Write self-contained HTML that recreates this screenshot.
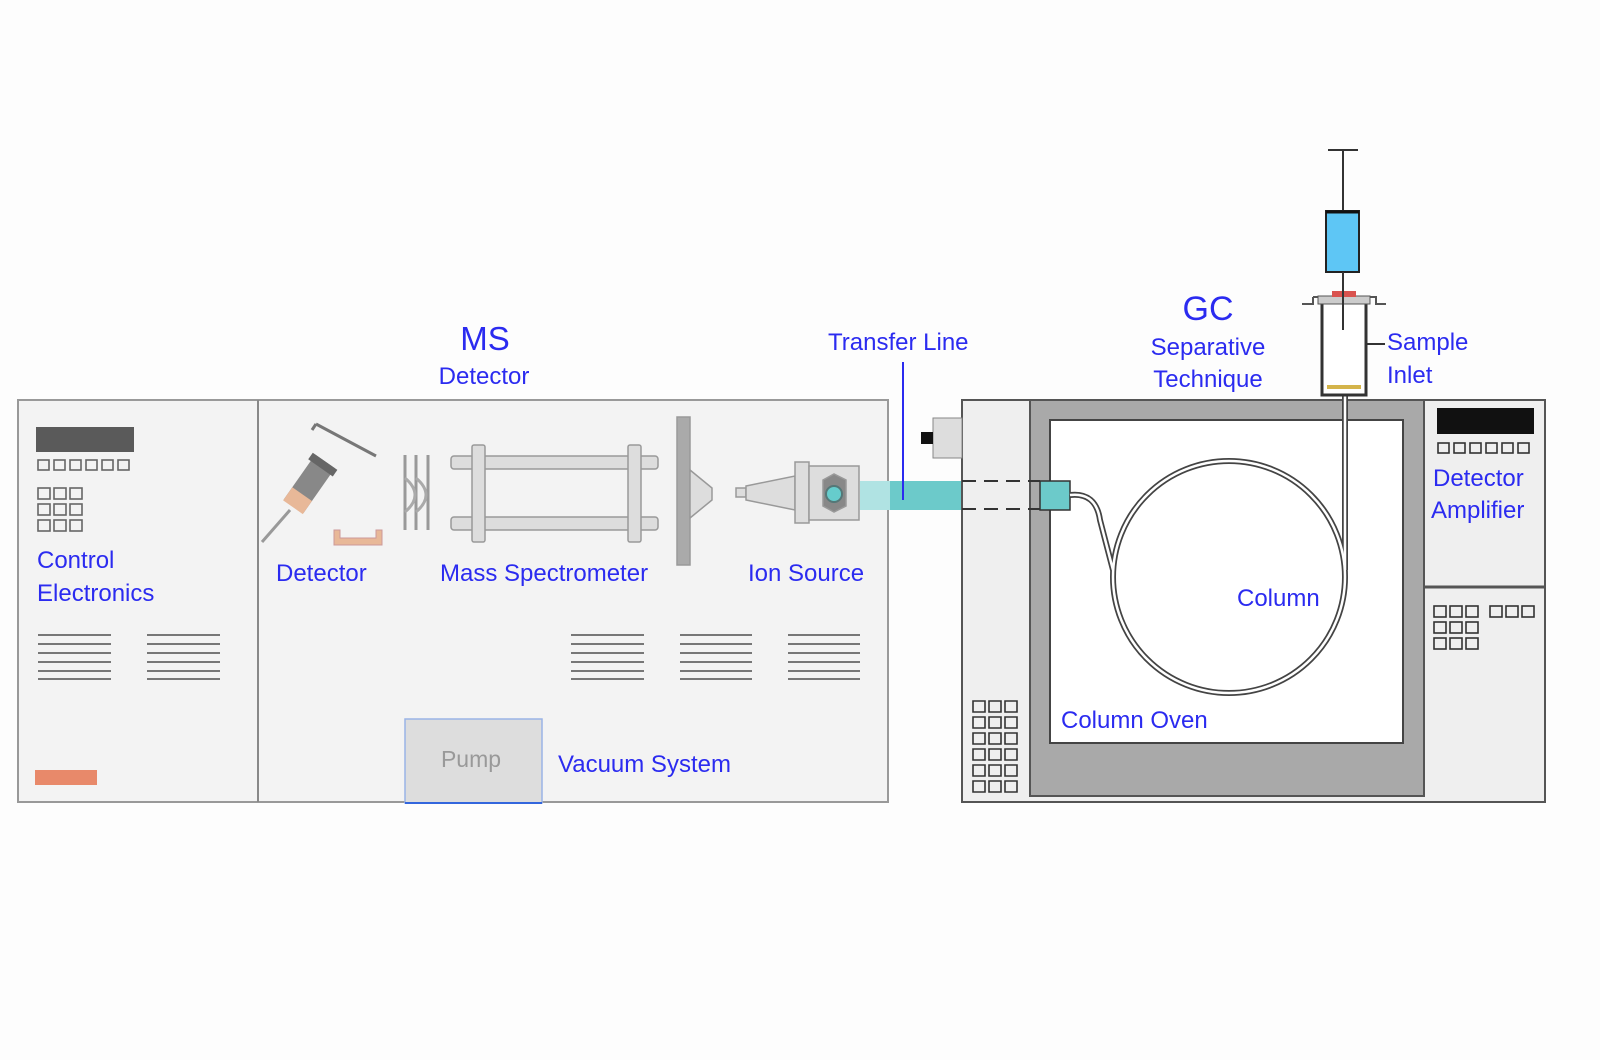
<!DOCTYPE html><html><head><style>html,body{margin:0;padding:0;background:#fdfdfd;overflow:hidden;width:100%;height:100%}svg{display:block;width:100vw;height:100vh}text{font-family:"Liberation Sans",sans-serif;fill:#2b2bf0}</style></head><body>
<svg viewBox="0 0 1600 1060" preserveAspectRatio="none" xmlns="http://www.w3.org/2000/svg">
<rect width="1600" height="1060" fill="#fdfdfd"/>
<rect x="18" y="400" width="870" height="402" fill="#f3f3f3" stroke="#999" stroke-width="2"/>
<line x1="258" y1="400" x2="258" y2="802" stroke="#888" stroke-width="2"/>
<rect x="36" y="427" width="98" height="25" fill="#5a5a5a"/>
<g fill="none" stroke="#666" stroke-width="1.6">
<rect x="38" y="460" width="11" height="10"/><rect x="54" y="460" width="11" height="10"/><rect x="70" y="460" width="11" height="10"/><rect x="86" y="460" width="11" height="10"/><rect x="102" y="460" width="11" height="10"/><rect x="118" y="460" width="11" height="10"/>
<rect x="38" y="488" width="12" height="11"/><rect x="54" y="488" width="12" height="11"/><rect x="70" y="488" width="12" height="11"/>
<rect x="38" y="504" width="12" height="11"/><rect x="54" y="504" width="12" height="11"/><rect x="70" y="504" width="12" height="11"/>
<rect x="38" y="520" width="12" height="11"/><rect x="54" y="520" width="12" height="11"/><rect x="70" y="520" width="12" height="11"/>
</g>
<text x="37" y="568" font-size="24">Control</text><text x="37" y="601" font-size="24">Electronics</text>
<g stroke="#777" stroke-width="2">
<path d="M38 635H111M38 644H111M38 653H111M38 662H111M38 671H111M38 679H111"/>
<path d="M147 635H220M147 644H220M147 653H220M147 662H220M147 671H220M147 679H220"/>
<path d="M571 635H644M571 644H644M571 653H644M571 662H644M571 671H644M571 679H644"/>
<path d="M680 635H752M680 644H752M680 653H752M680 662H752M680 671H752M680 679H752"/>
<path d="M788 635H860M788 644H860M788 653H860M788 662H860M788 671H860M788 679H860"/>
</g>
<rect x="35" y="770" width="62" height="15" fill="#e8896a"/>
<text x="485" y="350" font-size="33" text-anchor="middle">MS</text>
<text x="484" y="384" font-size="24" text-anchor="middle">Detector</text>
<path d="M316 424 L376 456" stroke="#777" stroke-width="3"/>
<path d="M316 424 L312 430" stroke="#777" stroke-width="3"/>
<g transform="rotate(35 305 490)"><rect x="293" y="455" width="24" height="55" fill="#888"/><rect x="293" y="495" width="24" height="16" fill="#e8b898"/><rect x="290" y="455" width="30" height="8" fill="#666"/></g>
<line x1="290" y1="510" x2="262" y2="542" stroke="#999" stroke-width="3"/>
<path d="M334 530 V545 H382 V530 H376 V538 H340 V530Z" fill="#e8b898" stroke="#c99" stroke-width="1"/>
<g stroke="#999" stroke-width="3"><line x1="405" y1="455" x2="405" y2="530"/><line x1="416" y1="455" x2="416" y2="530"/><line x1="428" y1="455" x2="428" y2="530"/></g>
<path d="M405 478 Q425 495 405 512 M416 478 Q436 495 416 512" fill="none" stroke="#aaa" stroke-width="3"/>
<g fill="#ddd" stroke="#999" stroke-width="1.5">
<rect x="451" y="456" width="207" height="13" rx="3"/><rect x="451" y="517" width="207" height="13" rx="3"/>
<rect x="472" y="445" width="13" height="97" rx="2"/><rect x="628" y="445" width="13" height="97" rx="2"/>
<rect x="677" y="417" width="13" height="148" fill="#aaa"/>
<path d="M690 470 L712 488 V500 L690 518Z"/>
<rect x="736" y="488" width="10" height="9"/>
<path d="M746 486 L795 476 V510 L746 500Z"/>
<rect x="795" y="462" width="14" height="61"/>
<rect x="809" y="466" width="50" height="54"/>
<path d="M823 480 L834 474 L846 480 V506 L834 512 L823 506Z" fill="#888"/>
</g>
<circle cx="834" cy="494" r="8" fill="#6cc" stroke="#577" stroke-width="2"/>
<text x="276" y="581" font-size="24">Detector</text>
<text x="440" y="581" font-size="24">Mass Spectrometer</text>
<text x="748" y="581" font-size="24">Ion Source</text>
<rect x="405" y="719" width="137" height="84" fill="#ddd" stroke="#9ab3e6" stroke-width="1.5"/>
<line x1="405" y1="803" x2="542" y2="803" stroke="#3366dd" stroke-width="2"/>
<text x="471" y="767" font-size="23" text-anchor="middle" style="fill:#999">Pump</text>
<text x="558" y="772" font-size="24">Vacuum System</text>
<rect x="860" y="481" width="102" height="29" fill="#6ccaca"/>
<rect x="860" y="481" width="30" height="29" fill="#b0e3e3"/>
<line x1="903" y1="362" x2="903" y2="500" stroke="#2b2bf0" stroke-width="2"/>
<text x="828" y="350" font-size="24">Transfer Line</text>
<rect x="962" y="400" width="583" height="402" fill="#efefef" stroke="#555" stroke-width="2"/>
<rect x="1030" y="400" width="394" height="396" fill="#a9a9a9" stroke="#555" stroke-width="2"/>
<rect x="1050" y="420" width="353" height="323" fill="#fff" stroke="#444" stroke-width="2"/>
<g stroke="#333" stroke-width="2" stroke-dasharray="14 8"><line x1="962" y1="481" x2="1040" y2="481"/><line x1="962" y1="509" x2="1040" y2="509"/></g>
<rect x="1040" y="481" width="30" height="29" fill="#6ccaca" stroke="#333" stroke-width="1.5"/>
<rect x="933" y="418" width="29" height="40" fill="#ddd" stroke="#888"/>
<rect x="921" y="432" width="12" height="12" fill="#111"/>
<line x1="1424" y1="587" x2="1545" y2="587" stroke="#555" stroke-width="3"/>
<rect x="1437" y="408" width="97" height="26" fill="#111"/>
<g fill="none" stroke="#333" stroke-width="1.6">
<rect x="1438" y="443" width="11" height="10"/><rect x="1454" y="443" width="11" height="10"/><rect x="1470" y="443" width="11" height="10"/><rect x="1486" y="443" width="11" height="10"/><rect x="1502" y="443" width="11" height="10"/><rect x="1518" y="443" width="11" height="10"/>
<rect x="1434" y="606" width="12" height="11"/><rect x="1450" y="606" width="12" height="11"/><rect x="1466" y="606" width="12" height="11"/><rect x="1490" y="606" width="12" height="11"/><rect x="1506" y="606" width="12" height="11"/><rect x="1522" y="606" width="12" height="11"/>
<rect x="1434" y="622" width="12" height="11"/><rect x="1450" y="622" width="12" height="11"/><rect x="1466" y="622" width="12" height="11"/>
<rect x="1434" y="638" width="12" height="11"/><rect x="1450" y="638" width="12" height="11"/><rect x="1466" y="638" width="12" height="11"/>
<path d="M973 701h12v11h-12zM989 701h12v11h-12zM1005 701h12v11h-12zM973 717h12v11h-12zM989 717h12v11h-12zM1005 717h12v11h-12zM973 733h12v11h-12zM989 733h12v11h-12zM1005 733h12v11h-12zM973 749h12v11h-12zM989 749h12v11h-12zM1005 749h12v11h-12zM973 765h12v11h-12zM989 765h12v11h-12zM1005 765h12v11h-12zM973 781h12v11h-12zM989 781h12v11h-12zM1005 781h12v11h-12z"/>
</g>
<text x="1433" y="486" font-size="24">Detector</text><text x="1431" y="518" font-size="24">Amplifier</text>
<g fill="none" stroke="#444" stroke-width="6"><circle cx="1229" cy="577" r="116"/><path d="M1070 495 Q1096 492 1100 520 L1113 570"/><path d="M1345 395 V570"/></g>
<g fill="none" stroke="#fff" stroke-width="2.5"><circle cx="1229" cy="577" r="116"/><path d="M1070 495 Q1096 492 1100 520 L1113 570"/><path d="M1345 395 V570"/></g>
<text x="1237" y="606" font-size="24">Column</text>
<text x="1061" y="728" font-size="24">Column Oven</text>
<line x1="1343" y1="149" x2="1343" y2="212" stroke="#333" stroke-width="2"/>
<line x1="1328" y1="150" x2="1358" y2="150" stroke="#333" stroke-width="2"/>
<rect x="1326" y="211" width="33" height="61" fill="#5ec6f5" stroke="#222" stroke-width="2"/>
<line x1="1326" y1="212" x2="1359" y2="212" stroke="#111" stroke-width="3"/>
<path d="M1313 297 H1376 V304 H1386 M1313 297 V304 H1302" fill="none" stroke="#555" stroke-width="2"/>
<rect x="1322" y="303" width="44" height="92" fill="#fff" stroke="#333" stroke-width="3"/>
<rect x="1318" y="296" width="52" height="8" fill="#ccc" stroke="#555"/>
<rect x="1332" y="291" width="24" height="6" fill="#d9534f"/>
<rect x="1327" y="385" width="34" height="4" fill="#d4b44a"/>
<line x1="1343" y1="272" x2="1343" y2="330" stroke="#333" stroke-width="2"/>
<line x1="1366" y1="344" x2="1385" y2="344" stroke="#333" stroke-width="2"/>
<text x="1208" y="320" font-size="34" text-anchor="middle">GC</text>
<text x="1208" y="355" font-size="24" text-anchor="middle">Separative</text>
<text x="1208" y="387" font-size="24" text-anchor="middle">Technique</text>
<text x="1387" y="350" font-size="24">Sample</text><text x="1387" y="383" font-size="24">Inlet</text>
</svg></body></html>
